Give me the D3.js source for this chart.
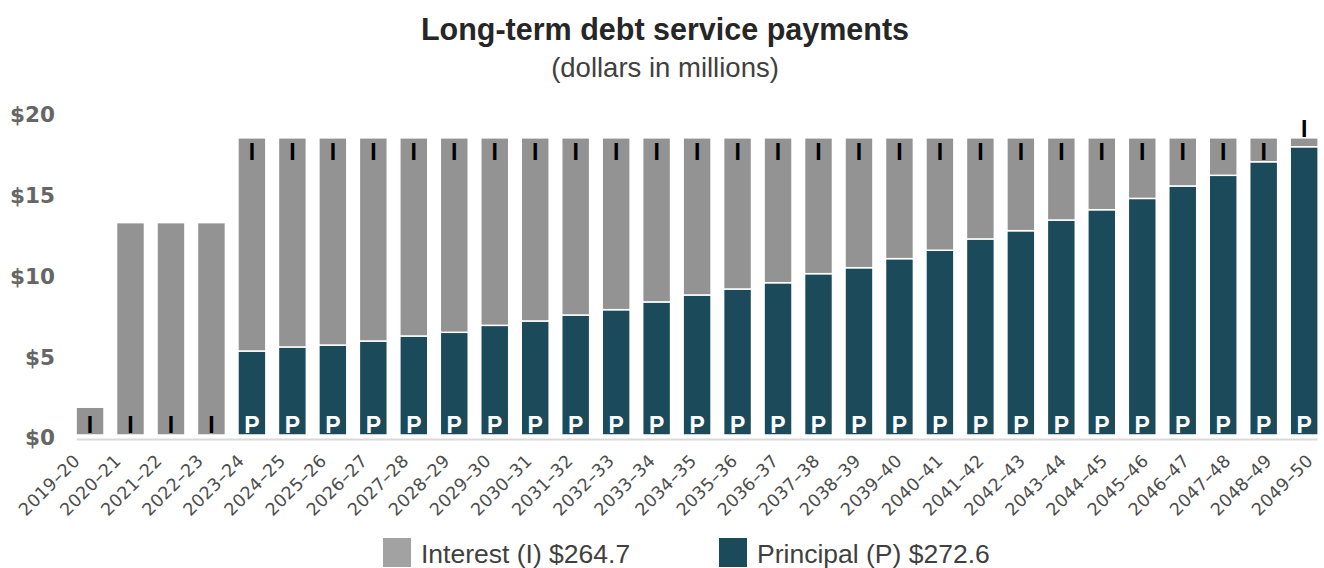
<!DOCTYPE html>
<html>
<head>
<meta charset="utf-8">
<script src="https://cdn.jsdelivr.net/npm/d3@7"></script>
<style>
  html, body { margin: 0; padding: 0; background: #fff; }
  svg { display: block; }
</style>
</head>
<body>
<svg id="chart" width="1324" height="568"></svg>
<script>
// Fiscal years
const years = [
  "2019–20", "2020–21", "2021–22", "2022–23", "2023–24", "2024–25", "2025–26",
  "2026–27", "2027–28", "2028–29", "2029–30", "2030–31", "2031–32", "2032–33",
  "2033–34", "2034–35", "2035–36", "2036–37", "2037–38", "2038–39", "2039–40",
  "2040–41", "2041–42", "2042–43", "2043–44", "2044–45", "2045–46", "2046–47",
  "2047–48", "2048–49", "2049–50"
];

// Principal payments, $ millions
const principal = [
  0, 0, 0, 0, 5.20, 5.45, 5.57, 5.82, 6.13, 6.36, 6.79, 7.06, 7.43, 7.76,
  8.24, 8.67, 9.04, 9.43, 9.99, 10.36, 10.92, 11.44, 12.14, 12.65, 13.31,
  13.95, 14.65, 15.42, 16.08, 16.92, 17.85
];

// Interest payments, $ millions
const interest = [
  1.72, 13.15, 13.15, 13.15, 13.20, 12.95, 12.83, 12.58, 12.27, 12.04, 11.61,
  11.34, 10.97, 10.64, 10.16, 9.73, 9.36, 8.97, 8.41, 8.04, 7.48, 6.96, 6.26,
  5.75, 5.09, 4.45, 3.75, 2.98, 2.32, 1.48, 0.55
];

const yTicks = [0, 5, 10, 15, 20];

const titleText = "Long-term debt service payments";
const subtitleText = "(dollars in millions)";
const legendItems = [
  { key: "interest", label: "Interest (I) $264.7", color: "#a2a2a2" },
  { key: "principal", label: "Principal (P) $272.6", color: "#1b4a5a" }
];

const colors = { interest: "#939393", principal: "#1b4a5a" };

const rows = years.map((year, i) => ({ year, principal: principal[i], interest: interest[i] }));

const svg = d3.select("#chart");
const sans = "'Liberation Sans', Arial, sans-serif";

// Scales
const x = d3.scaleBand()
  .domain(years)
  .range([69.8, 1324.4])
  .paddingInner(0.31)
  .paddingOuter(0.155);

const y = d3.scaleLinear().domain([0, 20]).range([435, 112]);

// Category labels sit on a slightly wider spacing than the bars
const xLabel = d3.scalePoint().domain(years).range([81, 1314]);

// Title
svg.append("text")
  .attr("x", 665).attr("y", 40)
  .attr("text-anchor", "middle")
  .style("font-family", sans).style("font-weight", "bold").style("font-size", "30.5px")
  .style("fill", "#262626")
  .text(titleText);

svg.append("text")
  .attr("x", 665).attr("y", 77)
  .attr("text-anchor", "middle")
  .style("font-family", sans).style("font-size", "27.5px")
  .style("fill", "#404040")
  .text(subtitleText);

// Y axis labels
const yAxis = d3.axisLeft(y).tickValues(yTicks).tickSize(0).tickPadding(0)
  .tickFormat(d => "$" + d);
const gy = svg.append("g").attr("transform", "translate(55,3)").call(yAxis);
gy.select(".domain").remove();
gy.selectAll("text")
  .style("font-family", "'DejaVu Sans', sans-serif")
  .style("font-weight", "bold")
  .style("font-size", "21.5px")
  .style("fill", "#666");

// Baseline rule
svg.append("line")
  .attr("x1", x(years[0]) + 0.5).attr("x2", x(years[years.length - 1]) + x.bandwidth() - 0.5)
  .attr("y1", 439.5).attr("y2", 439.5)
  .attr("stroke", "#d9d9d9").attr("stroke-width", 2);

// Stacked bars
const stack = d3.stack().keys(["principal", "interest"]);
const series = stack(rows);

svg.append("g").selectAll("g")
  .data(series)
  .join("g")
  .attr("fill", d => colors[d.key])
  .selectAll("rect")
  .data(d => d.filter(p => p[1] - p[0] > 0))
  .join("rect")
  .attr("x", d => x(d.data.year))
  .attr("width", x.bandwidth())
  .attr("y", d => y(d[1]))
  .attr("height", d => y(d[0]) - y(d[1]))
  .attr("stroke", "#fff")
  .attr("stroke-width", 1.5);

// Segment markers: "P" at the base of principal, "I" at the top of interest
const markers = svg.append("g")
  .style("font-family", sans).style("font-weight", "bold").style("font-size", "23px")
  .attr("text-anchor", "middle");

markers.selectAll("text.p")
  .data(rows.filter(d => d.principal > 0))
  .join("text")
  .attr("class", "p")
  .attr("x", d => x(d.year) + x.bandwidth() / 2)
  .attr("y", y(0) - 2)
  .style("fill", "#fff")
  .text("P");

markers.selectAll("text.i")
  .data(rows.filter(d => d.interest > 0))
  .join("text")
  .attr("class", "i")
  .attr("x", d => x(d.year) + x.bandwidth() / 2)
  .attr("y", d => {
    const top = y(d.principal + d.interest);
    const h = y(d.principal) - top;
    if (d.principal === 0) return y(0) - 2;   // interest-only years: at the base
    if (h < 20) return top - 1;              // thin segment: just above the bar
    return top + 22;                          // inside, at the top of the segment
  })
  .style("fill", "#000")
  .text("I");

// Category axis labels, rotated
svg.append("g").selectAll("text")
  .data(years)
  .join("text")
  .attr("transform", d => `translate(${xLabel(d)},462) rotate(-45)`)
  .attr("text-anchor", "end")
  .style("font-family", "'DejaVu Sans', sans-serif")
  .style("font-size", "17.5px")
  .style("letter-spacing", "0.3px")
  .style("fill", "#4d4d4d")
  .text(d => d);

// Legend
const legendX = { interest: 383, principal: 719 };
const lg = svg.append("g");
legendItems.forEach(item => {
  const g = lg.append("g").attr("transform", `translate(${legendX[item.key]},538)`);
  g.append("rect").attr("width", 28).attr("height", 29).attr("fill", item.color);
  g.append("text")
    .attr("x", 38).attr("y", 25)
    .style("font-family", sans).style("font-size", "26.5px")
    .style("fill", "#404040")
    .text(item.label);
});
</script>
</body>
</html>
